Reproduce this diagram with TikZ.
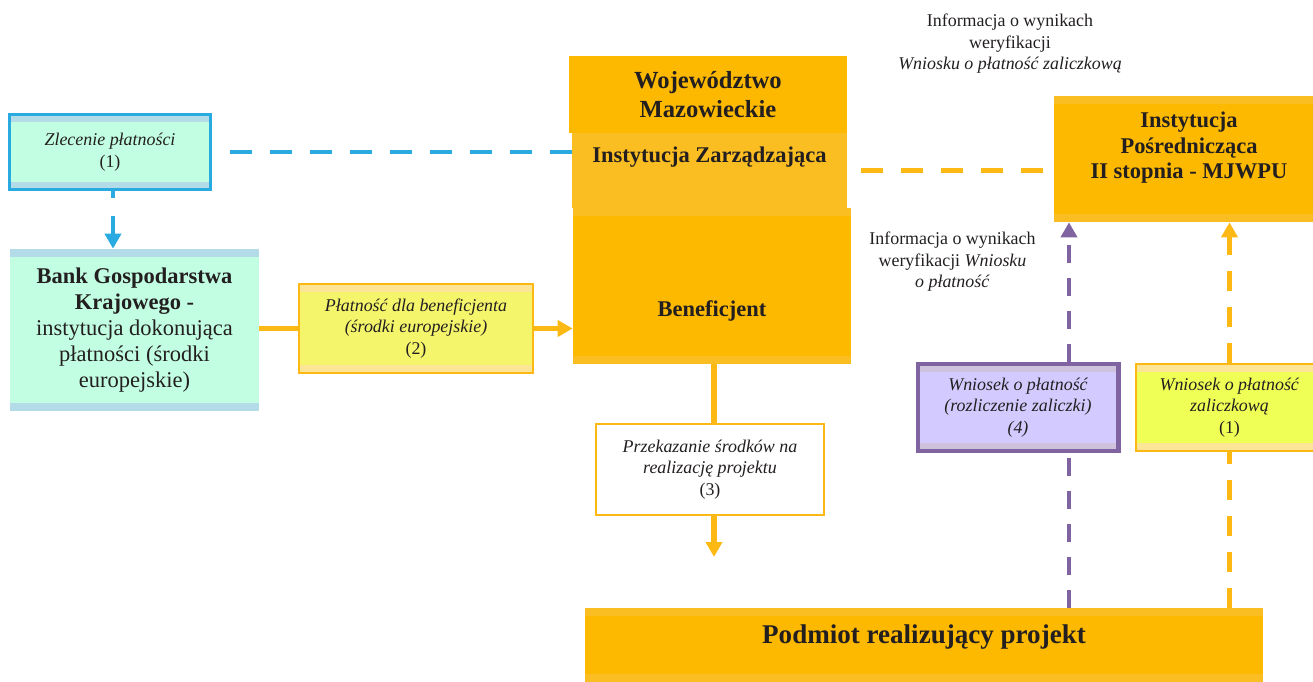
\documentclass[tikz,border=0pt]{standalone}
\usepackage{fontspec}
\setmainfont{Liberation Serif}
\usetikzlibrary{arrows.meta}

\definecolor{blueline}{HTML}{29ABE2}
\definecolor{greenfill}{HTML}{C2FFE2}
\definecolor{blueband}{HTML}{B4DCE8}
\definecolor{orline}{HTML}{FDB913}
\definecolor{orfill}{HTML}{FDB900}
\definecolor{orlight}{HTML}{FBBE22}
\definecolor{yelfill}{HTML}{F5F56B}
\definecolor{yelband}{HTML}{FDE597}
\definecolor{limefill}{HTML}{F0FF55}
\definecolor{purpleline}{HTML}{8064A2}
\definecolor{lavfill}{HTML}{D3CBFF}
\definecolor{lavband}{HTML}{CEC2DC}
\definecolor{textgrey}{HTML}{231F20}

\newcommand{\txtsmall}{\fontsize{10.2}{12.2}\selectfont}
\newcommand{\txtmid}{\fontsize{12.8}{14.7}\selectfont}
\newcommand{\txtbig}{\fontsize{14}{16.8}\selectfont}
\newcommand{\txthuge}{\fontsize{15.4}{18}\selectfont}

\tikzset{
  band/.style={path picture={
    \fill[#1] (path picture bounding box.north west) rectangle ([yshift=-4.5pt]path picture bounding box.north east);
    \fill[#1] (path picture bounding box.south west) rectangle ([yshift=4.5pt]path picture bounding box.south east);}},
  orangebox/.style={fill=orfill, inner sep=0pt, font=\txtmid\bfseries, align=center, text=textgrey},
  smallbox/.style={inner sep=0pt, font=\txtsmall, align=center, text=textgrey},
  info/.style={inner sep=0pt, font=\txtsmall, align=center, text=textgrey},
  bighead/.style={-{Triangle[length=0.3cm,width=0.32cm]}},
  solidline/.style={draw=orline, line width=3.2pt},
  bluedash/.style={draw=blueline, line width=2.8pt, dash pattern=on 0.44cm off 0.36cm},
  orangedash/.style={draw=orline, line width=2.8pt, dash pattern=on 0.44cm off 0.36cm},
  purpledash/.style={draw=purpleline, line width=2.8pt, dash pattern=on 0.36cm off 0.3cm},
  yellowdash/.style={draw=orline, line width=2.8pt, dash pattern=on 0.4cm off 0.32cm}
}

\begin{document}
\begin{tikzpicture}[x=0.02cm, y=-0.02cm]
  \useasboundingbox (0,0) rectangle (1313,682);
  % boxes
  \node (zlec) [smallbox, draw=blueline, line width=1.7pt, fill=greenfill, band=blueband,
    minimum width=4.02cm, minimum height=1.5cm] at (110,152) {\textit{Zlecenie płatności}\\(1)};
  \node (bank) [fill=greenfill, band=blueband, inner sep=0pt, align=center, text=textgrey,
    font=\txtmid, minimum width=4.98cm, minimum height=3.24cm] at (134.5,330)
    {\textbf{Bank Gospodarstwa}\\\textbf{Krajowego -}\\instytucja dokonująca\\płatności (środki\\europejskie)};
  \node (plat) [smallbox, draw=orline, line width=1.2pt, fill=yelfill, band=yelband,
    minimum width=4.68cm, minimum height=1.78cm] at (416,328.5)
    {\textit{Płatność dla beneficjenta}\\\textit{(środki europejskie)}\\(2)};
  \node (woj) [orangebox, font=\txtbig\bfseries, minimum width=5.56cm, minimum height=1.54cm]
    at (708,94.5) {Województwo\\Mazowieckie};
  \node (iz) [orangebox, fill=orlight, minimum width=5.5cm, text height=0.6cm, text depth=0.9cm]
    at (709.5,170.5) {Instytucja Zarządzająca};
  \node (ben) [orangebox, band=orlight, minimum width=5.56cm, text height=2.18cm, text depth=0.94cm]
    at (712,286) {Beneficjent};
  \node (ip) [orangebox, band=orlight, minimum width=5.4cm, text height=1.66cm, text depth=0.86cm]
    at (1189,159) {Instytucja\\Pośrednicząca\\II stopnia - MJWPU};
  \node (prz) [smallbox, draw=orline, line width=1.2pt, fill=white,
    minimum width=4.56cm, minimum height=1.82cm] at (710,469.5)
    {\textit{Przekazanie środków na}\\\textit{realizację projektu}\\(3)};
  \node (pod) [orangebox, band=orlight, font=\txthuge\bfseries, minimum width=13.56cm,
    text height=0.7cm, text depth=0.78cm] at (924,645) {Podmiot realizujący projekt};
  \node (wn4) [smallbox, font=\txtsmall\itshape, draw=purpleline, line width=2.3pt, fill=lavfill,
    band=lavband, minimum width=4.02cm, minimum height=1.74cm] at (1018,407.5)
    {Wniosek o płatność\\(rozliczenie zaliczki)\\(4)};
  \node (wn1) [smallbox, draw=orline, line width=1.2pt, fill=limefill, band=yelband,
    minimum width=3.74cm, minimum height=1.74cm] at (1229.5,407.5)
    {\textit{Wniosek o płatność}\\\textit{zaliczkową}\\(1)};
  % texts
  \node (info1) [info] at (1010,44) {Informacja o wynikach\\weryfikacji\\\textit{Wniosku o płatność zaliczkową}};
  \node (info2) [info] at (952.5,262) {Informacja o wynikach\\weryfikacji \textit{Wniosku}\\\textit{o płatność}};
  \coordinate (tip3) at (714,557);
  \coordinate (p4) at (1069,0);
  \coordinate (p0) at (113,0);
  % connectors
  \draw [bluedash, dash phase=0.44cm] (zlec.east) -- (zlec.east -| iz.west);
  \draw [bluedash, bighead, dash phase=0.3cm] (p0 |- zlec.south) -- (p0 |- bank.north);
  \draw [solidline] (bank.east |- plat.west) -- (plat.west);
  \draw [solidline, bighead] (plat.east) -- (plat.east -| ben.west);
  \draw [orangedash, dash phase=0.52cm] (iz.east) -- (iz.east -| ip.west);
  \draw [solidline] (tip3 |- ben.south) -- (tip3 |- prz.north);
  \draw [solidline, bighead] (tip3 |- prz.south) -- (tip3);
  \draw [purpledash] (p4 |- pod.north) -- (p4 |- wn4.south);
  \draw [purpledash, bighead] (p4 |- wn4.north) -- (p4 |- ip.south);
  \draw [yellowdash] (pod.north -| wn1.south) -- (wn1.south);
  \draw [yellowdash, bighead] (wn1.north) -- (wn1.north |- ip.south);
\end{tikzpicture}
\end{document}
